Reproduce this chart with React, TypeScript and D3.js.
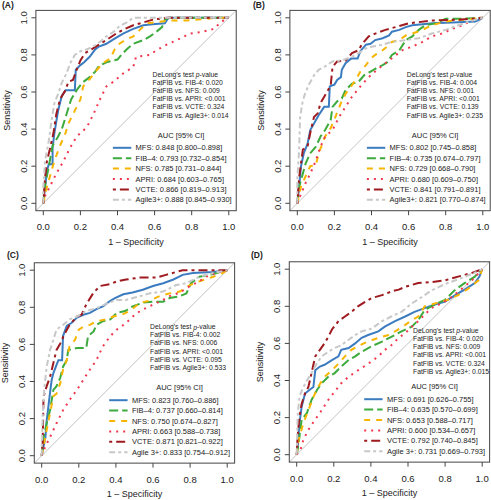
import React from 'react';
import * as d3 from 'd3';

type P = [number, number];

const seriesNames = ['MFS', 'FIB-4', 'NFS', 'APRI', 'VCTE', 'Agile3+'];
const seriesColors = ['#3b7cc0', '#3daa3d', '#f7b500', '#f0374e', '#9e1a1f', '#c8c8c8'];
const seriesDashes = ['none', '9,4', '6,6', '2,5', '3,4,9,4', '6,3,3,3'];

const xTicks = [0, 0.2, 0.4, 0.6, 0.8, 1.0];
const yTicks = [0, 0.2, 0.4, 0.6, 0.8, 1.0];

const comparisons = ['FatFIB vs. FIB-4', 'FatFIB vs. NFS', 'FatFIB vs. APRI', 'FatFIB vs. VCTE', 'FatFIB vs. Agile3+'];

// Panel A
const rocA_MFS: P[] = [[0,0],[0.02,0.18],[0.03,0.21],[0.05,0.21],[0.05,0.3],[0.06,0.38],[0.08,0.5],[0.1,0.58],[0.12,0.61],[0.17,0.61],[0.175,0.72],[0.2,0.745],[0.22,0.76],[0.25,0.79],[0.28,0.83],[0.3,0.845],[0.34,0.86],[0.38,0.885],[0.43,0.915],[0.485,0.94],[0.54,0.96],[0.59,0.965],[0.655,0.97],[0.675,1],[1,1]];
const rocA_FIB4: P[] = [[0,0],[0.01,0.1],[0.03,0.2],[0.05,0.31],[0.08,0.36],[0.1,0.4],[0.125,0.48],[0.15,0.56],[0.18,0.61],[0.21,0.65],[0.25,0.68],[0.28,0.71],[0.3,0.74],[0.34,0.76],[0.4,0.775],[0.42,0.8],[0.45,0.83],[0.485,0.86],[0.54,0.88],[0.575,0.9],[0.61,0.925],[0.64,0.95],[0.655,0.99],[0.68,1],[1,1]];
const rocA_NFS: P[] = [[0,0],[0.02,0.09],[0.04,0.16],[0.06,0.23],[0.09,0.31],[0.12,0.38],[0.135,0.43],[0.16,0.48],[0.2,0.56],[0.215,0.63],[0.25,0.67],[0.29,0.72],[0.32,0.755],[0.36,0.78],[0.385,0.83],[0.41,0.86],[0.45,0.885],[0.485,0.9],[0.52,0.935],[0.56,0.97],[0.68,0.985],[0.77,0.985],[0.935,1],[1,1]];
const rocA_APRI: P[] = [[0,0],[0.01,0.04],[0.035,0.09],[0.07,0.16],[0.11,0.23],[0.145,0.3],[0.18,0.36],[0.235,0.41],[0.27,0.48],[0.31,0.57],[0.34,0.63],[0.385,0.66],[0.43,0.7],[0.485,0.735],[0.5,0.79],[0.575,0.8],[0.61,0.825],[0.665,0.855],[0.72,0.88],[0.79,0.915],[0.86,0.925],[0.92,0.94],[0.95,0.97],[0.99,1],[1,1]];
const rocA_VCTE: P[] = [[0,0],[0.01,0.14],[0.02,0.23],[0.035,0.29],[0.055,0.38],[0.07,0.48],[0.09,0.56],[0.12,0.61],[0.135,0.655],[0.16,0.665],[0.18,0.72],[0.2,0.77],[0.225,0.81],[0.26,0.83],[0.3,0.855],[0.34,0.88],[0.385,0.91],[0.43,0.935],[0.485,0.96],[0.54,0.975],[0.59,0.99],[0.665,1],[1,1]];
const rocA_Agile: P[] = [[0,0],[0,0.09],[0.01,0.23],[0.03,0.34],[0.045,0.45],[0.06,0.54],[0.08,0.59],[0.1,0.65],[0.125,0.7],[0.145,0.755],[0.17,0.8],[0.2,0.82],[0.235,0.83],[0.27,0.845],[0.305,0.87],[0.34,0.9],[0.38,0.925],[0.41,0.955],[0.45,0.975],[0.485,1],[1,1]];

// Panel B
const rocB_MFS: P[] = [[0,0],[0.01,0.09],[0.02,0.2],[0.035,0.27],[0.055,0.32],[0.07,0.395],[0.09,0.43],[0.115,0.475],[0.145,0.52],[0.17,0.52],[0.175,0.63],[0.2,0.64],[0.215,0.665],[0.235,0.68],[0.24,0.72],[0.26,0.755],[0.29,0.78],[0.325,0.78],[0.34,0.82],[0.37,0.855],[0.395,0.86],[0.42,0.88],[0.46,0.89],[0.495,0.905],[0.51,0.925],[0.55,0.935],[0.585,0.95],[0.62,0.96],[0.73,0.97],[0.835,0.975],[0.96,0.98],[1,1]];
const rocB_FIB4: P[] = [[0,0],[0.01,0.09],[0.03,0.16],[0.045,0.215],[0.07,0.27],[0.1,0.305],[0.125,0.36],[0.15,0.395],[0.18,0.45],[0.19,0.52],[0.215,0.55],[0.24,0.565],[0.26,0.61],[0.295,0.645],[0.33,0.655],[0.36,0.69],[0.395,0.71],[0.42,0.725],[0.46,0.745],[0.485,0.76],[0.51,0.8],[0.55,0.825],[0.585,0.88],[0.62,0.9],[0.655,0.935],[0.69,0.96],[0.745,0.97],[0.8,0.995],[0.89,0.995],[1,1]];
const rocB_NFS: P[] = [[0,0],[0.02,0.09],[0.055,0.17],[0.07,0.2],[0.1,0.205],[0.115,0.27],[0.135,0.32],[0.15,0.36],[0.18,0.405],[0.205,0.465],[0.235,0.54],[0.26,0.59],[0.29,0.63],[0.315,0.665],[0.34,0.71],[0.37,0.745],[0.395,0.78],[0.42,0.8],[0.46,0.825],[0.485,0.845],[0.51,0.87],[0.55,0.88],[0.585,0.905],[0.62,0.915],[0.675,0.935],[0.725,0.96],[0.8,0.98],[0.89,0.99],[1,1]];
const rocB_APRI: P[] = [[0,0],[0.02,0.05],[0.045,0.11],[0.07,0.16],[0.1,0.23],[0.125,0.305],[0.15,0.36],[0.19,0.395],[0.225,0.465],[0.26,0.52],[0.295,0.575],[0.34,0.63],[0.385,0.68],[0.43,0.72],[0.475,0.755],[0.52,0.79],[0.565,0.825],[0.62,0.845],[0.675,0.87],[0.725,0.9],[0.78,0.915],[0.835,0.94],[0.89,0.96],[0.94,0.985],[1,1]];
const rocB_VCTE: P[] = [[0,0],[0.01,0.14],[0.03,0.29],[0.055,0.305],[0.07,0.38],[0.09,0.465],[0.11,0.485],[0.125,0.54],[0.145,0.575],[0.16,0.6],[0.18,0.635],[0.19,0.735],[0.215,0.765],[0.26,0.77],[0.295,0.81],[0.33,0.825],[0.35,0.86],[0.385,0.9],[0.42,0.915],[0.475,0.935],[0.53,0.95],[0.6,0.97],[0.725,0.985],[0.87,0.99],[1,1]];
const rocB_Agile: P[] = [[0,0],[0,0.13],[0.01,0.29],[0.015,0.465],[0.03,0.555],[0.045,0.6],[0.065,0.645],[0.09,0.69],[0.115,0.72],[0.145,0.735],[0.19,0.765],[0.24,0.77],[0.295,0.79],[0.33,0.81],[0.37,0.835],[0.405,0.845],[0.46,0.855],[0.51,0.87],[0.585,0.88],[0.655,0.89],[0.725,0.915],[0.8,0.935],[0.87,0.96],[0.925,0.98],[1,1]];

// Panel C
const rocC_MFS: P[] = [[0,0],[0.02,0.1],[0.027,0.19],[0.036,0.265],[0.045,0.34],[0.054,0.41],[0.063,0.445],[0.08,0.49],[0.09,0.515],[0.11,0.515],[0.115,0.645],[0.135,0.7],[0.16,0.715],[0.19,0.745],[0.225,0.76],[0.26,0.77],[0.295,0.79],[0.33,0.805],[0.37,0.835],[0.395,0.85],[0.44,0.87],[0.49,0.88],[0.545,0.895],[0.6,0.915],[0.655,0.93],[0.71,0.95],[0.76,0.975],[0.815,0.985],[0.925,0.99],[1,1]];
const rocC_FIB4: P[] = [[0,0],[0.01,0.1],[0.027,0.175],[0.045,0.245],[0.063,0.355],[0.08,0.375],[0.1,0.42],[0.115,0.48],[0.135,0.515],[0.143,0.57],[0.19,0.58],[0.24,0.58],[0.25,0.645],[0.28,0.67],[0.295,0.705],[0.33,0.725],[0.37,0.735],[0.405,0.77],[0.45,0.78],[0.49,0.805],[0.545,0.825],[0.6,0.83],[0.655,0.83],[0.69,0.85],[0.745,0.86],[0.78,0.875],[0.805,0.93],[0.85,0.965],[0.925,0.98],[1,1]];
const rocC_NFS: P[] = [[0,0],[0.01,0.05],[0.027,0.14],[0.045,0.23],[0.063,0.32],[0.08,0.335],[0.1,0.39],[0.115,0.465],[0.135,0.515],[0.15,0.59],[0.18,0.625],[0.2,0.68],[0.225,0.695],[0.26,0.705],[0.295,0.725],[0.35,0.735],[0.385,0.75],[0.43,0.76],[0.475,0.78],[0.53,0.825],[0.58,0.835],[0.635,0.86],[0.69,0.875],[0.745,0.885],[0.8,0.92],[0.85,0.94],[0.925,0.965],[0.975,0.985],[1,1]];
const rocC_APRI: P[] = [[0,0],[0.02,0.05],[0.045,0.1],[0.08,0.175],[0.115,0.245],[0.15,0.3],[0.19,0.355],[0.225,0.41],[0.26,0.465],[0.295,0.515],[0.33,0.59],[0.37,0.645],[0.405,0.68],[0.455,0.715],[0.49,0.75],[0.53,0.78],[0.58,0.805],[0.635,0.83],[0.69,0.86],[0.745,0.88],[0.8,0.915],[0.85,0.94],[0.885,0.965],[0.94,0.985],[1,1]];
const rocC_VCTE: P[] = [[0,0],[0.005,0.065],[0.01,0.32],[0.027,0.375],[0.045,0.425],[0.063,0.5],[0.08,0.57],[0.1,0.605],[0.125,0.66],[0.15,0.705],[0.19,0.75],[0.215,0.76],[0.24,0.815],[0.28,0.88],[0.315,0.915],[0.37,0.925],[0.405,0.94],[0.455,0.95],[0.53,0.96],[0.62,0.96],[0.67,0.975],[0.76,1],[1,1]];
const rocC_Agile: P[] = [[0,0],[0.005,0.21],[0.013,0.355],[0.027,0.48],[0.045,0.57],[0.063,0.625],[0.08,0.68],[0.115,0.705],[0.15,0.735],[0.19,0.75],[0.24,0.78],[0.295,0.795],[0.35,0.82],[0.405,0.84],[0.455,0.84],[0.53,0.86],[0.58,0.875],[0.655,0.885],[0.725,0.92],[0.78,0.93],[0.85,0.965],[0.925,0.985],[1,1]];

// Panel D
const rocD_MFS: P[] = [[0,0],[0.005,0.04],[0.015,0.17],[0.027,0.26],[0.045,0.33],[0.07,0.35],[0.09,0.365],[0.1,0.455],[0.125,0.475],[0.15,0.485],[0.19,0.51],[0.225,0.53],[0.24,0.565],[0.28,0.575],[0.315,0.6],[0.35,0.63],[0.385,0.645],[0.44,0.665],[0.475,0.69],[0.53,0.72],[0.585,0.745],[0.635,0.77],[0.69,0.79],[0.745,0.81],[0.8,0.825],[0.855,0.86],[0.905,0.89],[0.96,0.925],[0.985,0.96],[1,1]];
const rocD_FIB4: P[] = [[0,0],[0.01,0.06],[0.027,0.19],[0.055,0.225],[0.08,0.295],[0.11,0.35],[0.135,0.385],[0.17,0.42],[0.205,0.44],[0.24,0.475],[0.28,0.51],[0.315,0.53],[0.35,0.555],[0.405,0.585],[0.46,0.61],[0.51,0.635],[0.565,0.665],[0.62,0.69],[0.655,0.725],[0.69,0.78],[0.745,0.81],[0.8,0.835],[0.855,0.89],[0.905,0.925],[0.96,0.96],[1,1]];
const rocD_NFS: P[] = [[0,0],[0.01,0.08],[0.036,0.17],[0.063,0.24],[0.09,0.31],[0.115,0.365],[0.15,0.42],[0.19,0.455],[0.225,0.49],[0.26,0.53],[0.295,0.565],[0.34,0.59],[0.385,0.61],[0.44,0.63],[0.495,0.645],[0.54,0.67],[0.585,0.7],[0.62,0.725],[0.655,0.745],[0.69,0.8],[0.745,0.815],[0.815,0.835],[0.87,0.86],[0.925,0.895],[0.98,0.94],[1,1]];
const rocD_APRI: P[] = [[0,0],[0.02,0.025],[0.036,0.08],[0.063,0.135],[0.1,0.19],[0.135,0.24],[0.17,0.295],[0.205,0.34],[0.24,0.385],[0.28,0.42],[0.33,0.455],[0.385,0.49],[0.44,0.53],[0.475,0.565],[0.51,0.59],[0.55,0.63],[0.585,0.655],[0.62,0.69],[0.655,0.72],[0.69,0.755],[0.725,0.79],[0.78,0.815],[0.835,0.85],[0.89,0.895],[0.945,0.94],[1,1]];
const rocD_VCTE: P[] = [[0,0],[0.005,0.1],[0.015,0.205],[0.027,0.275],[0.045,0.33],[0.063,0.365],[0.08,0.44],[0.1,0.53],[0.125,0.565],[0.15,0.6],[0.17,0.635],[0.19,0.675],[0.225,0.72],[0.26,0.745],[0.295,0.77],[0.33,0.8],[0.37,0.825],[0.405,0.845],[0.46,0.86],[0.51,0.88],[0.55,0.89],[0.585,0.905],[0.655,0.925],[0.725,0.93],[0.8,0.94],[0.87,0.96],[0.945,0.98],[1,1]];
const rocD_Agile: P[] = [[0,0],[0.005,0.205],[0.015,0.315],[0.036,0.365],[0.055,0.4],[0.08,0.44],[0.11,0.495],[0.135,0.53],[0.17,0.555],[0.205,0.575],[0.24,0.59],[0.28,0.62],[0.315,0.645],[0.35,0.665],[0.405,0.68],[0.46,0.72],[0.51,0.745],[0.565,0.77],[0.62,0.815],[0.675,0.85],[0.725,0.885],[0.8,0.92],[0.87,0.945],[0.945,0.975],[1,1]];

const legendA = ['MFS: 0.848 [0.800–0.898]', 'FIB–4: 0.793 [0.732–0.854]', 'NFS: 0.785 [0.731–0.844]', 'APRI: 0.684 [0.603–0.765]', 'VCTE: 0.866 [0.819–0.913]', 'Agile3+: 0.888 [0.845–0.930]'];
const legendB = ['MFS: 0.802 [0.745–0.858]', 'FIB–4: 0.735 [0.674–0.797]', 'NFS: 0.729 [0.668–0.790]', 'APRI: 0.680 [0.609–0.750]', 'VCTE: 0.841 [0.791–0.891]', 'Agile3+: 0.821 [0.770–0.874]'];
const legendC = ['MFS: 0.823 [0.760–0.886]', 'FIB–4: 0.737 [0.660–0.814]', 'NFS: 0.750 [0.674–0.827]', 'APRI: 0.663 [0.588–0.738]', 'VCTE: 0.871 [0.821–0.922]', 'Agile 3+: 0.833 [0.754–0.912]'];
const legendD = ['MFS: 0.691 [0.626–0.755]', 'FIB–4: 0.635 [0.570–0.699]', 'NFS: 0.653 [0.588–0.717]', 'APRI: 0.600 [0.534–0.657]', 'VCTE: 0.792 [0.740–0.845]', 'Agile 3+: 0.731 [0.669–0.793]'];

const pvalA = ['0.020', '0.009', '<0.001', '0.324', '0.014'];
const pvalB = ['0.004', '0.001', '<0.001', '0.139', '0.235'];
const pvalC = ['0.002', '0.006', '<0.001', '0.095', '0.533'];
const pvalD = ['0.020', '0.009', '<0.001', '0.324', '0.015'];

const panels = [
  { label: '(A)', curves: [rocA_MFS, rocA_FIB4, rocA_NFS, rocA_APRI, rocA_VCTE, rocA_Agile], legend: legendA, pvals: pvalA },
  { label: '(B)', curves: [rocB_MFS, rocB_FIB4, rocB_NFS, rocB_APRI, rocB_VCTE, rocB_Agile], legend: legendB, pvals: pvalB },
  { label: '(C)', curves: [rocC_MFS, rocC_FIB4, rocC_NFS, rocC_APRI, rocC_VCTE, rocC_Agile], legend: legendC, pvals: pvalC },
  { label: '(D)', curves: [rocD_MFS, rocD_FIB4, rocD_NFS, rocD_APRI, rocD_VCTE, rocD_Agile], legend: legendD, pvals: pvalD },
];

// layout (pixel positions)
const layouts = [
  { x0: 43.3, y0: 203.3, lx: 2, ly: 5, delX: 109.2, delY: -129.2 },
  { x0: 297.3, y0: 203.3, lx: 253, ly: 5, delX: 109.5, delY: -129.2 },
  { x0: 41.7, y0: 455.7, lx: 7, ly: 255, delX: 108.3, delY: -129.2 },
  { x0: 296.7, y0: 454.7, lx: 251, ly: 255, delX: 116.3, delY: -124.5 },
];
const SPAN = 185.5;
const FONT = "'Liberation Sans', Arial, Helvetica, sans-serif";
const TXT = '#222';
const LEG_FS = 7.5;

let ctx: CanvasRenderingContext2D | null = null;
function textWidth(s: string, size: number) {
  if (!ctx) ctx = document.createElement('canvas').getContext('2d');
  if (!ctx) return s.length * size * 0.55;
  ctx.font = `${size}px 'Liberation Sans', Arial, sans-serif`;
  return ctx.measureText(s).width;
}

function Panel({ idx }: { idx: number }) {
  const p = panels[idx];
  const L = layouts[idx];
  const x = d3.scaleLinear().domain([0, 1]).range([L.x0, L.x0 + SPAN]);
  const y = d3.scaleLinear().domain([0, 1]).range([L.y0, L.y0 - SPAN]);
  const line = d3.line<P>().x(d => x(d[0])).y(d => y(d[1]));
  const bx0 = x(-0.04), bx1 = x(1.04), by0 = y(-0.04), by1 = y(1.04);
  const maxW = d3.max(p.legend, s => textWidth(s, LEG_FS)) || 0;
  const legStart = L.x0 + 188.4 - maxW;
  const rowY = (i: number) => L.y0 - 55.5 + i * 10.4;
  return (
    <g>
      <text x={L.lx} y={L.ly} fontSize={8.5} fontWeight="bold" fontFamily={FONT} dominantBaseline="central" fill={TXT}>{p.label}</text>
      <line x1={bx0} y1={by0} x2={bx1} y2={by1} stroke="#c4c4c4" strokeWidth={1} />
      {p.curves.map((c, i) => (
        <path key={i} d={line(c) || ''} fill="none" stroke={seriesColors[i]} strokeWidth={2}
          strokeDasharray={seriesDashes[i] === 'none' ? undefined : seriesDashes[i]} />
      ))}
      <rect x={bx0} y={by1} width={bx1 - bx0} height={by0 - by1} fill="none" stroke="#444" strokeWidth={1} />
      {xTicks.map(t => (
        <g key={'x' + t}>
          <line x1={x(t)} x2={x(t)} y1={by0} y2={by0 + 4.5} stroke="#444" />
          <text x={x(t)} y={L.y0 + 23.4} fontSize={9.5} fontFamily={FONT} textAnchor="middle" dominantBaseline="central" fill={TXT}>{d3.format('.1f')(t)}</text>
        </g>
      ))}
      {yTicks.map(t => (
        <g key={'y' + t}>
          <line x1={bx0} x2={bx0 - 4.5} y1={y(t)} y2={y(t)} stroke="#444" />
          <text transform={`translate(${L.x0 - 19.8},${y(t)}) rotate(-90)`} fontSize={9.5} fontFamily={FONT} textAnchor="middle" dominantBaseline="central" fill={TXT}>{d3.format('.1f')(t)}</text>
        </g>
      ))}
      <text x={x(0.5)} y={L.y0 + 38.7} fontSize={9} fontFamily={FONT} textAnchor="middle" dominantBaseline="central" fill={TXT}>1 – Specificity</text>
      <text transform={`translate(${L.x0 - 36.3},${y(0.5)}) rotate(-90)`} fontSize={9} fontFamily={FONT} textAnchor="middle" dominantBaseline="central" fill={TXT}>Sensitivity</text>
      <text x={L.x0 + L.delX} y={L.y0 + L.delY} fontSize={6.8} fontFamily={FONT} dominantBaseline="central" fill={TXT}>
        DeLong's test <tspan fontStyle="italic">p</tspan>-value
      </text>
      {comparisons.map((c, i) => (
        <text key={'d' + i} x={L.x0 + L.delX} y={L.y0 + L.delY + 8.2 * (i + 1)} fontSize={6.8} fontFamily={FONT} dominantBaseline="central" fill={TXT}>{`${c}: ${p.pvals[i]}`}</text>
      ))}
      <text x={L.x0 + 137.8} y={L.y0 - 68.3} fontSize={LEG_FS} fontFamily={FONT} textAnchor="middle" dominantBaseline="central" fill={TXT}>AUC [95% CI]</text>
      {p.legend.map((s, i) => (
        <g key={'l' + i}>
          <line x1={legStart - 22.7} x2={legStart - 4.3} y1={rowY(i)} y2={rowY(i)} stroke={seriesColors[i]} strokeWidth={2}
            strokeDasharray={seriesDashes[i] === 'none' ? undefined : seriesDashes[i]} />
          <text x={legStart} y={rowY(i)} fontSize={LEG_FS} fontFamily={FONT} dominantBaseline="central" fill={TXT}>{s}</text>
        </g>
      ))}
    </g>
  );
}

export default function App() {
  return (
    <svg width={491} height={500} style={{ position: 'absolute', left: 0, top: 0, background: '#fff' }}>
      <rect x={0} y={0} width={491} height={500} fill="#fff" />
      {panels.map((_, i) => <Panel key={i} idx={i} />)}
    </svg>
  );
}
